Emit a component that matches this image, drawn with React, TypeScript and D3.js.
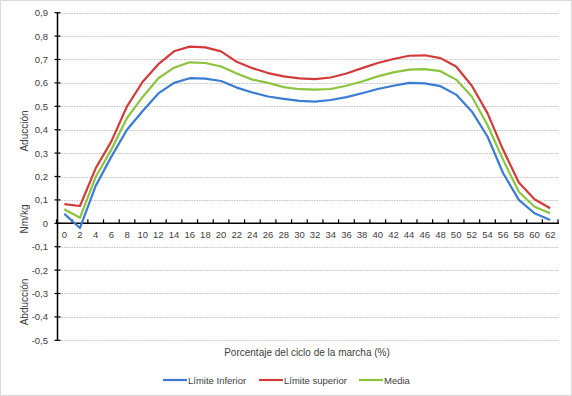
import React, { useEffect, useRef } from 'react';
import * as d3 from 'd3';

const categories = [0, 2, 4, 6, 8, 10, 12, 14, 16, 18, 20, 22, 24, 26, 28, 30, 32, 34, 36, 38, 40, 42, 44, 46, 48, 50, 52, 54, 56, 58, 60, 62];

const limiteInferior = [0.04, -0.02, 0.16, 0.285, 0.4, 0.48, 0.555, 0.6, 0.62, 0.618, 0.608, 0.58, 0.559, 0.542, 0.532, 0.523, 0.52, 0.527, 0.539, 0.556, 0.574, 0.588, 0.6, 0.598, 0.586, 0.55, 0.478, 0.371, 0.214, 0.1, 0.043, 0.014];
const limiteSuperior = [0.082, 0.074, 0.235, 0.35, 0.5, 0.605, 0.68, 0.735, 0.755, 0.752, 0.735, 0.69, 0.663, 0.642, 0.628, 0.619, 0.616, 0.623, 0.64, 0.663, 0.685, 0.702, 0.716, 0.718, 0.706, 0.67, 0.588, 0.471, 0.314, 0.174, 0.103, 0.064];
const media = [0.06, 0.024, 0.198, 0.315, 0.45, 0.54, 0.62, 0.665, 0.688, 0.685, 0.67, 0.64, 0.614, 0.6, 0.582, 0.573, 0.571, 0.574, 0.588, 0.606, 0.628, 0.645, 0.657, 0.659, 0.65, 0.614, 0.542, 0.42, 0.271, 0.135, 0.071, 0.043];

const yTicks = [-0.5, -0.4, -0.3, -0.2, -0.1, 0, 0.1, 0.2, 0.3, 0.4, 0.5, 0.6, 0.7, 0.8, 0.9];

const seriesList = [
  { name: 'Límite Inferior', values: limiteInferior, color: '#3b7bd4' },
  { name: 'Límite superior', values: limiteSuperior, color: '#d33a3a' },
  { name: 'Media', values: media, color: '#8cc43e' },
];

const FONT = '"Liberation Sans", "DejaVu Sans", sans-serif';

export default function App() {
  const ref = useRef<SVGSVGElement>(null);

  useEffect(() => {
    const svg = d3.select(ref.current);
    svg.selectAll('*').remove();

    const width = 572, height = 396;
    const left = 56.5, right = 558;

    const x = d3.scaleBand<number>()
      .domain(categories)
      .range([left, right])
      .padding(0);

    const y = d3.scaleLinear()
      .domain([-0.5, 0.9])
      .range([340.3, 12.7]);

    const cx = (d: number) => (x(d) as number) + x.bandwidth() / 2;

    // chart border
    svg.append('rect')
      .attr('x', 0.5).attr('y', 0.5)
      .attr('width', width - 1).attr('height', height - 1)
      .attr('fill', '#fff')
      .attr('stroke', '#d9d9d9');

    // grid lines
    svg.append('g')
      .selectAll('line')
      .data(yTicks.filter(t => t !== 0))
      .join('line')
      .attr('x1', left).attr('x2', right + 1)
      .attr('y1', d => Math.round(y(d)) + 0.5)
      .attr('y2', d => Math.round(y(d)) + 0.5)
      .attr('stroke', '#c4c4c4')
      .attr('stroke-dasharray', '1.5,1');

    // y axis
    const yAxis = svg.append('g');
    yAxis.append('line')
      .attr('x1', 57.5).attr('x2', 57.5)
      .attr('y1', y(0.9)).attr('y2', y(-0.5))
      .attr('stroke', '#000').attr('stroke-width', 1.5);
    yAxis.selectAll('line.tick')
      .data(yTicks)
      .join('line')
      .attr('class', 'tick')
      .attr('x1', 54.5).attr('x2', 60.5)
      .attr('y1', d => y(d)).attr('y2', d => y(d))
      .attr('stroke', '#000').attr('stroke-width', 1.2);
    yAxis.selectAll('text')
      .data(yTicks)
      .join('text')
      .attr('x', 48)
      .attr('y', d => y(d) + 3.5)
      .attr('text-anchor', 'end')
      .attr('font-family', FONT)
      .attr('font-size', 9.5)
      .attr('fill', '#404040')
      .text(d => String(Math.round(d * 10) / 10).replace('.', ','));

    // x axis
    const xAxis = svg.append('g');
    xAxis.append('line')
      .attr('x1', left).attr('x2', right + 1)
      .attr('y1', y(0)).attr('y2', y(0))
      .attr('stroke', '#000').attr('stroke-width', 1.5);
    xAxis.selectAll('line.tick')
      .data(d3.range(categories.length + 1))
      .join('line')
      .attr('class', 'tick')
      .attr('x1', i => left + i * x.bandwidth())
      .attr('x2', i => left + i * x.bandwidth())
      .attr('y1', y(0) - 4).attr('y2', y(0))
      .attr('stroke', '#000').attr('stroke-width', 1.2);
    xAxis.selectAll('text')
      .data(categories)
      .join('text')
      .attr('x', d => cx(d))
      .attr('y', y(0) + 14.5)
      .attr('text-anchor', 'middle')
      .attr('font-family', FONT)
      .attr('font-size', 9.5)
      .attr('fill', '#404040')
      .text(d => String(d));

    // series
    const line = d3.line<number>()
      .x((_, i) => cx(categories[i]))
      .y(d => y(d));

    svg.append('g')
      .selectAll('path')
      .data(seriesList)
      .join('path')
      .attr('d', s => line(s.values))
      .attr('fill', 'none')
      .attr('stroke', s => s.color)
      .attr('stroke-width', 2.2)
      .attr('stroke-linejoin', 'round');

    // axis titles
    svg.append('text')
      .attr('x', 307).attr('y', 356)
      .attr('text-anchor', 'middle')
      .attr('font-family', FONT)
      .attr('font-size', 10)
      .attr('fill', '#404040')
      .text('Porcentaje del ciclo de la marcha (%)');

    const yTitles = [
      { text: 'Aducción', cy: 131 },
      { text: 'Nm/kg', cy: 219 },
      { text: 'Abducción', cy: 302 },
    ];
    svg.append('g')
      .selectAll('text')
      .data(yTitles)
      .join('text')
      .attr('transform', d => 'translate(28,' + d.cy + ') rotate(-90)')
      .attr('text-anchor', 'middle')
      .attr('font-family', FONT)
      .attr('font-size', 10)
      .attr('fill', '#404040')
      .text(d => d.text);

    // legend
    const legendX = [163, 259, 359];
    const legend = svg.append('g')
      .selectAll('g')
      .data(seriesList)
      .join('g')
      .attr('transform', (_, i) => 'translate(' + legendX[i] + ',380)');
    legend.append('line')
      .attr('x1', 0).attr('x2', 24)
      .attr('y1', 0).attr('y2', 0)
      .attr('stroke', s => s.color)
      .attr('stroke-width', 2.2);
    legend.append('text')
      .attr('x', 25).attr('y', 3.5)
      .attr('font-family', FONT)
      .attr('font-size', 9.5)
      .attr('fill', '#404040')
      .text(s => s.name);
  }, []);

  return (
    <svg ref={ref} width={572} height={396}
      style={{ position: 'absolute', left: 0, top: 0, display: 'block' }} />
  );
}
